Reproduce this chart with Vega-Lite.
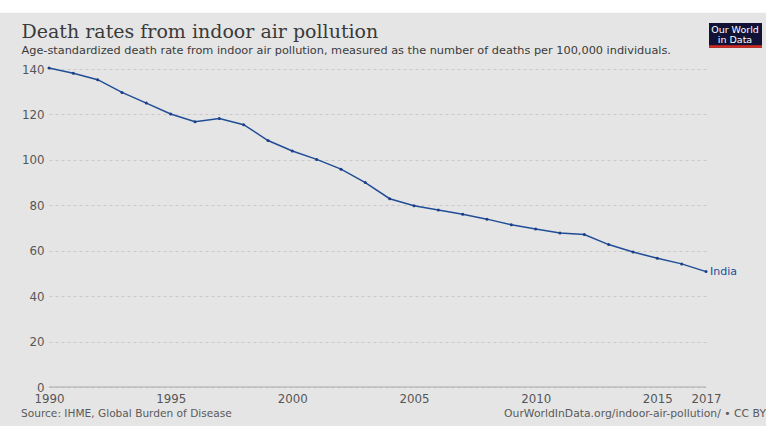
{
  "$schema": "https://vega.github.io/schema/vega-lite/v6.json",
  "width": 657,
  "height": 318,
  "autosize": {"type": "none"},
  "padding": {"left": 49, "top": 69, "right": 60, "bottom": 39},
  "background": "#e5e5e5",
  "config": {
    "view": {"stroke": null},
    "font": "DejaVu Sans"
  },
  "title": {
    "text": "Death rates from indoor air pollution",
    "subtitle": "Age-standardized death rate from indoor air pollution, measured as the number of deaths per 100,000 individuals.",
    "anchor": "start",
    "frame": "group",
    "dx": -27.5,
    "offset": -56.5,
    "font": "DejaVu Serif",
    "fontSize": 19,
    "fontWeight": "normal",
    "color": "#3a3a3a",
    "subtitleFont": "DejaVu Sans",
    "subtitleFontSize": 11.3,
    "subtitleColor": "#3a3a3a",
    "subtitlePadding": 3
  },
  "data": {
    "values": [
      {"year": 1990, "rate": 140.4, "entity": "India"},
      {"year": 1991, "rate": 138.1, "entity": "India"},
      {"year": 1992, "rate": 135.3, "entity": "India"},
      {"year": 1993, "rate": 129.7, "entity": "India"},
      {"year": 1994, "rate": 125.0, "entity": "India"},
      {"year": 1995, "rate": 120.2, "entity": "India"},
      {"year": 1996, "rate": 116.8, "entity": "India"},
      {"year": 1997, "rate": 118.2, "entity": "India"},
      {"year": 1998, "rate": 115.5, "entity": "India"},
      {"year": 1999, "rate": 108.5, "entity": "India"},
      {"year": 2000, "rate": 103.9, "entity": "India"},
      {"year": 2001, "rate": 100.2, "entity": "India"},
      {"year": 2002, "rate": 95.9, "entity": "India"},
      {"year": 2003, "rate": 90.0, "entity": "India"},
      {"year": 2004, "rate": 82.9, "entity": "India"},
      {"year": 2005, "rate": 79.8, "entity": "India"},
      {"year": 2006, "rate": 77.9, "entity": "India"},
      {"year": 2007, "rate": 76.1, "entity": "India"},
      {"year": 2008, "rate": 73.9, "entity": "India"},
      {"year": 2009, "rate": 71.4, "entity": "India"},
      {"year": 2010, "rate": 69.6, "entity": "India"},
      {"year": 2011, "rate": 67.8, "entity": "India"},
      {"year": 2012, "rate": 67.1, "entity": "India"},
      {"year": 2013, "rate": 62.7, "entity": "India"},
      {"year": 2014, "rate": 59.4, "entity": "India"},
      {"year": 2015, "rate": 56.7, "entity": "India"},
      {"year": 2016, "rate": 54.2, "entity": "India"},
      {"year": 2017, "rate": 50.8, "entity": "India"}
    ]
  },
  "encoding": {
    "x": {
      "field": "year",
      "type": "quantitative",
      "scale": {"domain": [1990, 2017], "nice": false, "zero": false},
      "axis": {
        "title": null,
        "values": [1990, 1995, 2000, 2005, 2010, 2015, 2017],
        "format": "d",
        "domain": false,
        "ticks": false,
        "grid": false,
        "labelPadding": 6.5,
        "labelFontSize": 11.8,
        "labelColor": "#555555",
        "labelFont": "DejaVu Sans",
        "labelFlush": false
      }
    },
    "y": {
      "field": "rate",
      "type": "quantitative",
      "scale": {"domain": [0, 140], "nice": false},
      "axis": {
        "title": null,
        "values": [0, 20, 40, 60, 80, 100, 120, 140],
        "domain": false,
        "ticks": false,
        "labelPadding": 5,
        "labelFontSize": 11.8,
        "labelColor": "#555555",
        "labelFont": "DejaVu Sans",
        "grid": true,
        "gridColor": "#c9c9c9",
        "gridDash": [3, 3],
        "gridWidth": 1
      }
    }
  },
  "layer": [
    {
      "data": {"values": [{"k": 1}]},
      "mark": {"type": "rect", "color": "#ffffff", "clip": false},
      "encoding": {"x": {"value": -49}, "x2": {"value": 717}, "y": {"value": -69}, "y2": {"value": -56.3}}
    },
    {
      "data": {"values": [{"v": 0}]},
      "mark": {"type": "rule", "color": "#aaaaaa", "strokeWidth": 1},
      "encoding": {"y": {"field": "v", "type": "quantitative"}, "x": {"value": 0}, "x2": {"value": 657}}
    },
    {
      "mark": {"type": "line", "color": "#214d97", "strokeWidth": 1.5, "clip": false},
      "encoding": {}
    },
    {
      "mark": {"type": "point", "filled": true, "color": "#1a3f85", "size": 9, "opacity": 1, "clip": false},
      "encoding": {}
    },
    {
      "transform": [{"filter": "datum.year == 2017"}],
      "mark": {"type": "text", "align": "left", "dx": 4, "fontSize": 11, "color": "#214d97", "font": "DejaVu Sans"},
      "encoding": {"text": {"field": "entity"}}
    },
    {
      "data": {"values": [{"t": "Source: IHME, Global Burden of Disease"}]},
      "mark": {"type": "text", "align": "left", "baseline": "alphabetic", "fontSize": 10.6, "color": "#5a5a5a"},
      "encoding": {"text": {"field": "t"}, "x": {"value": -28}, "y": {"value": 348}}
    },
    {
      "data": {"values": [{"t": "OurWorldInData.org/indoor-air-pollution/ • CC BY"}]},
      "mark": {"type": "text", "align": "right", "baseline": "alphabetic", "fontSize": 10.8, "color": "#5a5a5a"},
      "encoding": {"text": {"field": "t"}, "x": {"value": 717}, "y": {"value": 348}}
    },
    {
      "data": {"values": [{"k": 1}]},
      "mark": {"type": "rect", "color": "#111236", "clip": false},
      "encoding": {"x": {"value": 660}, "x2": {"value": 713}, "y": {"value": -46}, "y2": {"value": -21.3}}
    },
    {
      "data": {"values": [{"k": 1}]},
      "mark": {"type": "rect", "color": "#d42b21", "clip": false},
      "encoding": {"x": {"value": 660}, "x2": {"value": 713}, "y": {"value": -23.8}, "y2": {"value": -21.3}}
    },
    {
      "data": {"values": [{"t": "Our World"}]},
      "mark": {"type": "text", "align": "center", "baseline": "alphabetic", "fontSize": 9.5, "color": "#ffffff"},
      "encoding": {"text": {"field": "t"}, "x": {"value": 686}, "y": {"value": -36}}
    },
    {
      "data": {"values": [{"t": "in Data"}]},
      "mark": {"type": "text", "align": "center", "baseline": "alphabetic", "fontSize": 9.5, "color": "#ffffff"},
      "encoding": {"text": {"field": "t"}, "x": {"value": 686}, "y": {"value": -26.5}}
    }
  ]
}
